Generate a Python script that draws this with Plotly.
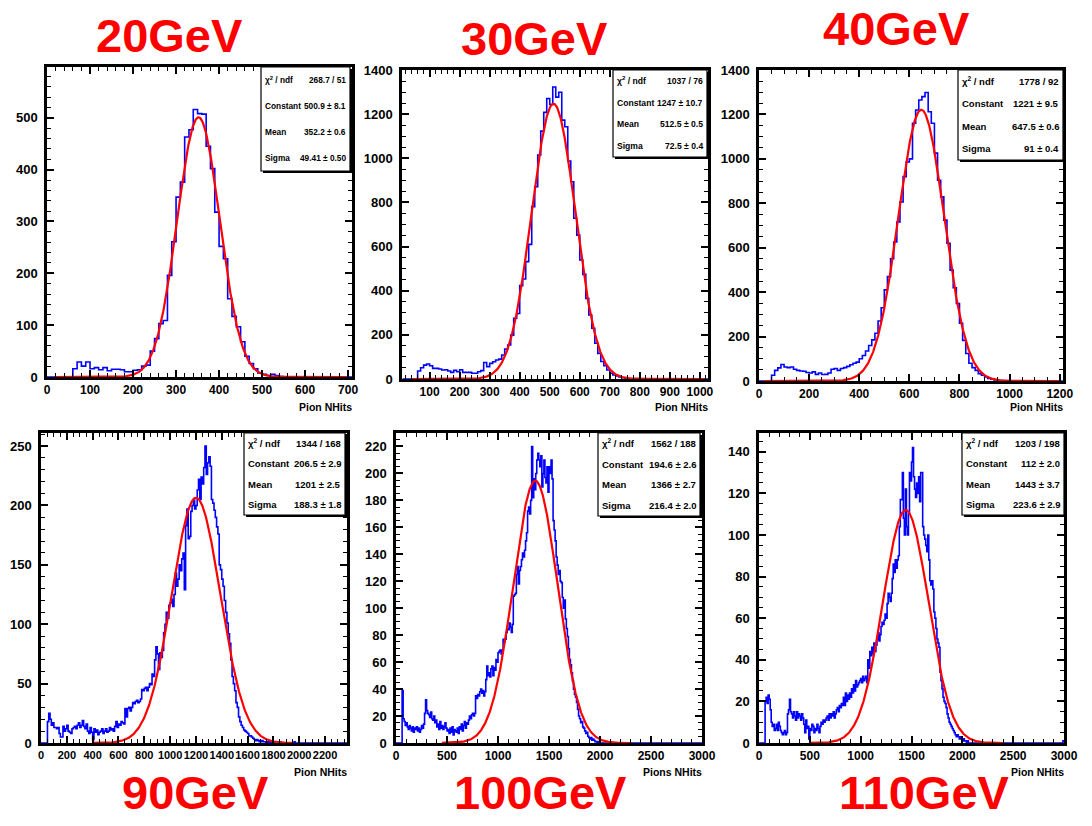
import numpy as np
import plotly.graph_objects as go

W, H = 1092, 826

# ---------------------------------------------------------------- data
beam_labels = ["20GeV", "30GeV", "40GeV", "90GeV", "100GeV", "110GeV"]
axis_titles = ["Pion NHits", "Pion NHits", "Pion NHits",
               "Pion NHits", "Pions NHits", "Pion NHits"]

# binning of each histogram: lower edge of the first bin and bin width
first_edge = [0, 10, 0, 0, 0, 0]
bin_width = [10, 10, 12.5, 10, 10, 10]

counts_20 = [
    0, 0, 0, 0, 0, 0, 16, 29, 21, 29,
    16, 18, 14, 18, 12, 15, 15, 14, 10, 10,
    13, 14, 21, 23, 50, 74, 103, 109, 196, 261,
    347, 376, 463, 477, 516, 508, 507, 445, 402, 318,
    252, 228, 151, 117, 97, 68, 40, 26, 16, 8,
    5, 3, 5, 3, 1, 0, 0, 0, 0, 0,
    0, 0, 0, 0, 0, 0, 0, 0, 0, 0,
    0,
]

counts_30 = [
    0, 0, 0, 0, 0, 36, 51, 63, 68,
    60, 48, 48, 45, 41, 42, 36, 30, 39, 33,
    42, 30, 30, 30, 26, 26, 33, 38, 75, 56,
    71, 78, 86, 90, 109, 136, 154, 199, 275, 297,
    423, 453, 532, 610, 781, 871, 1015, 1123, 1208, 1271,
    1244, 1323, 1277, 1299, 1173, 1143, 988, 894, 728, 652,
    539, 474, 365, 290, 230, 162, 116, 79, 60, 41,
    26, 18, 14, 9, 6, 3, 0, 0, 0, 0,
] + [0] * 23

counts_40 = [
    0, 0, 0, 0, 26,
    48, 59, 74, 63, 60, 63, 53, 48, 45, 44,
    38, 36, 41, 30, 36, 29, 30, 36, 53, 56,
    48, 56, 60, 66, 73, 80, 85, 100, 115, 135,
    160, 185, 215, 270, 330, 410, 470, 550, 626, 716,
    806, 920, 986, 1000, 1160, 1220, 1265, 1280, 1299, 1212,
    1160, 1026, 904, 829, 724, 620, 499, 420, 349, 260,
    183, 124, 80, 60, 48, 33, 26, 18, 12, 8,
    5, 3, 2,
] + [0] * 19

counts_90 = [
    0, 0, 0, 0, 0, 18, 25, 20, 15, 17,
    13, 13, 12, 13, 8, 5, 5, 14, 10, 12,
    15, 10, 9, 8, 12, 13, 14, 12, 15, 17,
    13, 15, 19, 14, 12, 16, 10, 8, 13, 9,
    3, 12, 9, 11, 7, 9, 10, 12, 8, 10,
    12, 9, 10, 13, 11, 12, 10, 14, 18, 13,
    16, 15, 18, 17, 16, 29, 22, 29, 30, 27,
    30, 34, 33, 35, 36, 34, 35, 37, 45, 44,
    46, 47, 44, 47, 50, 49, 58, 56, 70, 81,
    75, 62, 76, 72, 78, 93, 100, 110, 105, 116,
    118, 121, 115, 125, 143, 132, 138, 150, 145, 155,
    160, 129, 183, 197, 172, 174, 195, 200, 205, 197,
    200, 213, 222, 205, 224, 218, 232, 250, 226, 236,
    241, 233, 205, 202, 196, 190, 182, 176, 150, 146,
    138, 132, 120, 110, 101, 92, 84, 70, 56, 50,
    44, 34, 30, 22, 18, 15, 13, 11, 10, 9,
    8, 6, 6, 5, 4, 3, 2, 3, 2, 1,
    1, 2, 1, 1, 0, 1, 0, 1, 0, 0,
    0, 0, 0, 0, 0, 1, 0, 0, 0, 0,
    0, 0, 0, 0, 0, 0, 1, 0, 0, 0,
] + [0] * 37

counts_100 = [
    0, 0, 0, 0, 0, 0, 39, 18, 16, 13,
    15, 12, 10, 13, 11, 9, 12, 8, 11, 10,
    12, 9, 11, 8, 10, 13, 11, 14, 22, 32,
    24, 22, 21, 19, 23, 18, 17, 20, 15, 17,
    12, 14, 10, 16, 11, 13, 10, 12, 15, 11,
    9, 10, 7, 11, 8, 12, 6, 10, 9, 8,
    11, 7, 12, 10, 14, 9, 13, 16, 11, 15,
    14, 17, 20, 18, 21, 22, 20, 22, 35, 33,
    36, 35, 38, 40, 37, 39, 35, 38, 47, 57,
    50, 52, 49, 55, 57, 50, 56, 54, 62, 60,
    67, 68, 69, 66, 69, 77, 75, 77, 82, 85,
    84, 89, 86, 82, 88, 109, 110, 111, 125, 131,
    118, 128, 131, 136, 141, 138, 143, 150, 156, 172,
    175, 170, 180, 220, 182, 196, 188, 200, 210, 215,
    210, 205, 213, 190, 200, 210, 197, 193, 205, 186,
    205, 200, 210, 196, 165, 158, 150, 138, 132, 125,
    128, 120, 119, 108, 100, 106, 92, 85, 79, 70,
    62, 58, 52, 46, 40, 36, 34, 30, 25, 20,
    18, 15, 16, 12, 11, 9, 7, 8, 5, 4,
    3, 4, 2, 3, 2, 1, 1, 0, 1, 0,
] + [0] * 100

counts_110 = [
    0, 0, 0, 0, 0, 0, 20, 22, 19, 23,
    21, 16, 10, 8, 9, 6, 7, 9, 6, 10,
    8, 6, 5, 4, 5, 6, 4, 5, 14, 16,
    21, 15, 14, 12, 15, 13, 11, 15, 12, 14,
    13, 11, 14, 12, 9, 5, 11, 7, 8, 2,
    7, 6, 9, 8, 5, 7, 6, 9, 7, 5,
    8, 10, 9, 11, 10, 11, 12, 13, 11, 14,
    12, 14, 13, 15, 12, 14, 16, 17, 15, 18,
    17, 19, 18, 22, 18, 24, 20, 23, 21, 24,
    22, 26, 24, 28, 25, 30, 27, 28, 29, 30,
    31, 29, 32, 30, 31, 32, 29, 40, 36, 44,
    42, 46, 43, 48, 44, 47, 50, 53, 49, 52,
    56, 58, 57, 59, 62, 60, 67, 72, 70, 68,
    72, 79, 86, 82, 88, 84, 88, 90, 104, 117,
    117, 130, 108, 100, 122, 104, 100, 110, 130, 126,
    135, 142, 128, 122, 118, 125, 120, 128, 116, 130,
    130, 104, 100, 98, 95, 92, 100, 88, 78, 76,
    78, 74, 63, 60, 55, 50, 48, 46, 34, 30,
    26, 22, 20, 19, 17, 14, 12, 10, 9, 8,
    7, 6, 5, 4, 3, 4, 3, 2, 3, 2,
    1, 2, 1, 1, 0, 1, 0, 0, 0, 0,
] + [0] * 89 + [1]

all_counts = [counts_20, counts_30, counts_40, counts_90, counts_100, counts_110]

# Gaussian fit results printed in the stat boxes
chi2_ndf = ["268.7 / 51", "1037 / 76", "1778 / 92",
            "1344 / 168", "1562 / 188", "1203 / 198"]
const_val = ["500.9", "1247", "1221", "206.5", "194.6", "112"]
const_err = ["8.1", "10.7", "9.5", "2.9", "2.6", "2.0"]
mean_val = ["352.2", "512.5", "647.5", "1201", "1366", "1443"]
mean_err = ["0.6", "0.5", "0.6", "2.5", "2.7", "3.7"]
sigma_val = ["49.41", "72.5", "91", "188.3", "216.4", "223.6"]
sigma_err = ["0.50", "0.4", "0.4", "1.8", "2.0", "2.9"]
fit_lo = [20, 40, 20, 400, 450, 500]
fit_hi = [695, 1020, 1200, 1950, 2300, 2400]

# ---------------------------------------------------------------- layout
# frame of each pad in pixels: left, right, top, bottom
frames = [(47, 352, 67, 377), (402, 708, 70, 379), (759, 1063, 70, 381),
          (41, 347, 433, 743), (396, 702, 433, 743), (759, 1064, 433, 743)]
x_ranges = [(0, 709), (8, 1027), (0, 1213), (0, 2370), (0, 3000), (0, 3000)]
y_ranges = [(0, 598), (0, 1400), (0, 1400), (0, 261), (0, 230), (0, 149)]
x_major = [100, 100, 200, 200, 500, 500]
x_minor = [20, 20, 50, 50, 100, 100]
y_major = [100, 200, 200, 50, 20, 20]
y_minor = [20, 50, 50, 10, 5, 5]
x_tick_size = [12, 12, 12, 11, 12, 12]

# stat boxes (pixels) and their font size
stat_boxes = [(261, 350, 67, 171), (613, 707, 70, 157), (958, 1063, 70, 160),
              (244, 345, 433, 515), (598, 700, 433, 516), (962, 1064, 433, 515)]
stat_font = [8.3, 8.6, 9.5, 9.5, 9.5, 9.5]

title_pos = [(169, 35), (534, 38), (896, 28), (195, 792), (540, 792), (924, 792)]

SANS = "Liberation Sans, Arial, sans-serif"


def fx(px):
    return px / W


def fy(py):
    return 1 - py / H


fig = go.Figure()
layout = dict(
    width=W, height=H, margin=dict(l=0, r=0, t=0, b=0),
    paper_bgcolor="white", plot_bgcolor="white", showlegend=False,
)
shapes, annotations = [], []

for i in range(6):
    sfx = "" if i == 0 else str(i + 1)
    counts = all_counts[i]
    edges = [first_edge[i] + k * bin_width[i] for k in range(len(counts) + 1)]

    # histogram outline (step line)
    hx = [edges[0]] + edges
    hy = [0] + list(counts) + [counts[-1]]
    fig.add_trace(go.Scatter(
        x=hx, y=hy, mode="lines", line=dict(color="#0000ff", width=1.6, shape="hv"),
        xaxis="x" + sfx, yaxis="y" + sfx, hoverinfo="skip"))

    # Gaussian fit curve
    c, m, s = float(const_val[i]), float(mean_val[i]), float(sigma_val[i])
    gx = np.linspace(fit_lo[i], fit_hi[i], 600)
    gy = c * np.exp(-0.5 * ((gx - m) / s) ** 2)
    fig.add_trace(go.Scatter(
        x=gx, y=gy, mode="lines", line=dict(color="#ff0000", width=2.2),
        xaxis="x" + sfx, yaxis="y" + sfx, hoverinfo="skip"))

    l, r, t, b = frames[i]
    common = dict(
        ticks="inside", ticklen=7, tickwidth=1.6, tickcolor="black",
        showline=True, linewidth=2.5, linecolor="black", mirror="ticks",
        showgrid=False, zeroline=False, tickangle=0,
        automargin=False, fixedrange=True, tick0=0,
    )
    layout["xaxis" + sfx] = dict(
        domain=[fx(l), fx(r)], anchor="y" + sfx, range=list(x_ranges[i]),
        dtick=x_major[i], ticklabelstandoff=0,
        tickfont=dict(family=SANS, size=x_tick_size[i], color="black", weight="bold"),
        minor=dict(dtick=x_minor[i], tick0=0, ticks="inside", ticklen=4,
                   tickwidth=1.2, tickcolor="black", showgrid=False),
        **common)
    layout["yaxis" + sfx] = dict(
        domain=[fy(b), fy(t)], anchor="x" + sfx, range=list(y_ranges[i]),
        dtick=y_major[i], ticklabelstandoff=4,
        tickfont=dict(family=SANS, size=13, color="black", weight="bold"),
        minor=dict(dtick=y_minor[i], tick0=0, ticks="inside", ticklen=4,
                   tickwidth=1.2, tickcolor="black", showgrid=False),
        **common)

    # stat box with shadow
    bl, br, bt, bb = stat_boxes[i]
    shapes.append(dict(type="rect", xref="paper", yref="paper", layer="above",
                       x0=fx(bl + 2), x1=fx(br + 2), y0=fy(bb + 2), y1=fy(bt + 2),
                       fillcolor="black", line=dict(width=0)))
    shapes.append(dict(type="rect", xref="paper", yref="paper", layer="above",
                       x0=fx(bl), x1=fx(br), y0=fy(bb), y1=fy(bt),
                       fillcolor="white", line=dict(color="black", width=1.2)))
    rows = [
        ("χ<sup>2</sup> / ndf", chi2_ndf[i]),
        ("Constant", f"{const_val[i]} ± {const_err[i]}"),
        ("Mean", f"{mean_val[i]} ± {mean_err[i]}"),
        ("Sigma", f"{sigma_val[i]} ± {sigma_err[i]}"),
    ]
    row_h = (bb - bt) / 4
    sf = dict(family=SANS, size=stat_font[i], color="black", weight="bold")
    for k, (name, val) in enumerate(rows):
        yy = fy(bt + row_h * (k + 0.5))
        annotations.append(dict(xref="paper", yref="paper", x=fx(bl + 3), y=yy,
                                xanchor="left", yanchor="middle", text=name,
                                showarrow=False, font=sf, borderpad=0))
        annotations.append(dict(xref="paper", yref="paper", x=fx(br - 3), y=yy,
                                xanchor="right", yanchor="middle", text=val,
                                showarrow=False, font=sf, borderpad=0))

    # axis title, right aligned under the frame
    ty = 407 if i < 3 else 772
    annotations.append(dict(xref="paper", yref="paper", x=fx(r + 1), y=fy(ty),
                            xanchor="right", yanchor="middle", text=axis_titles[i],
                            showarrow=False, borderpad=0,
                            font=dict(family=SANS, size=10.5, color="black", weight="bold")))

    # beam energy label
    tx, tyy = title_pos[i]
    annotations.append(dict(xref="paper", yref="paper", x=fx(tx), y=fy(tyy),
                            xanchor="center", yanchor="middle", text=f"<b>{beam_labels[i]}</b>",
                            showarrow=False,
                            font=dict(family=SANS, size=47, color="#ff0000")))

layout["shapes"] = shapes
layout["annotations"] = annotations
fig.update_layout(**layout)
fig.write_html("out.html")
